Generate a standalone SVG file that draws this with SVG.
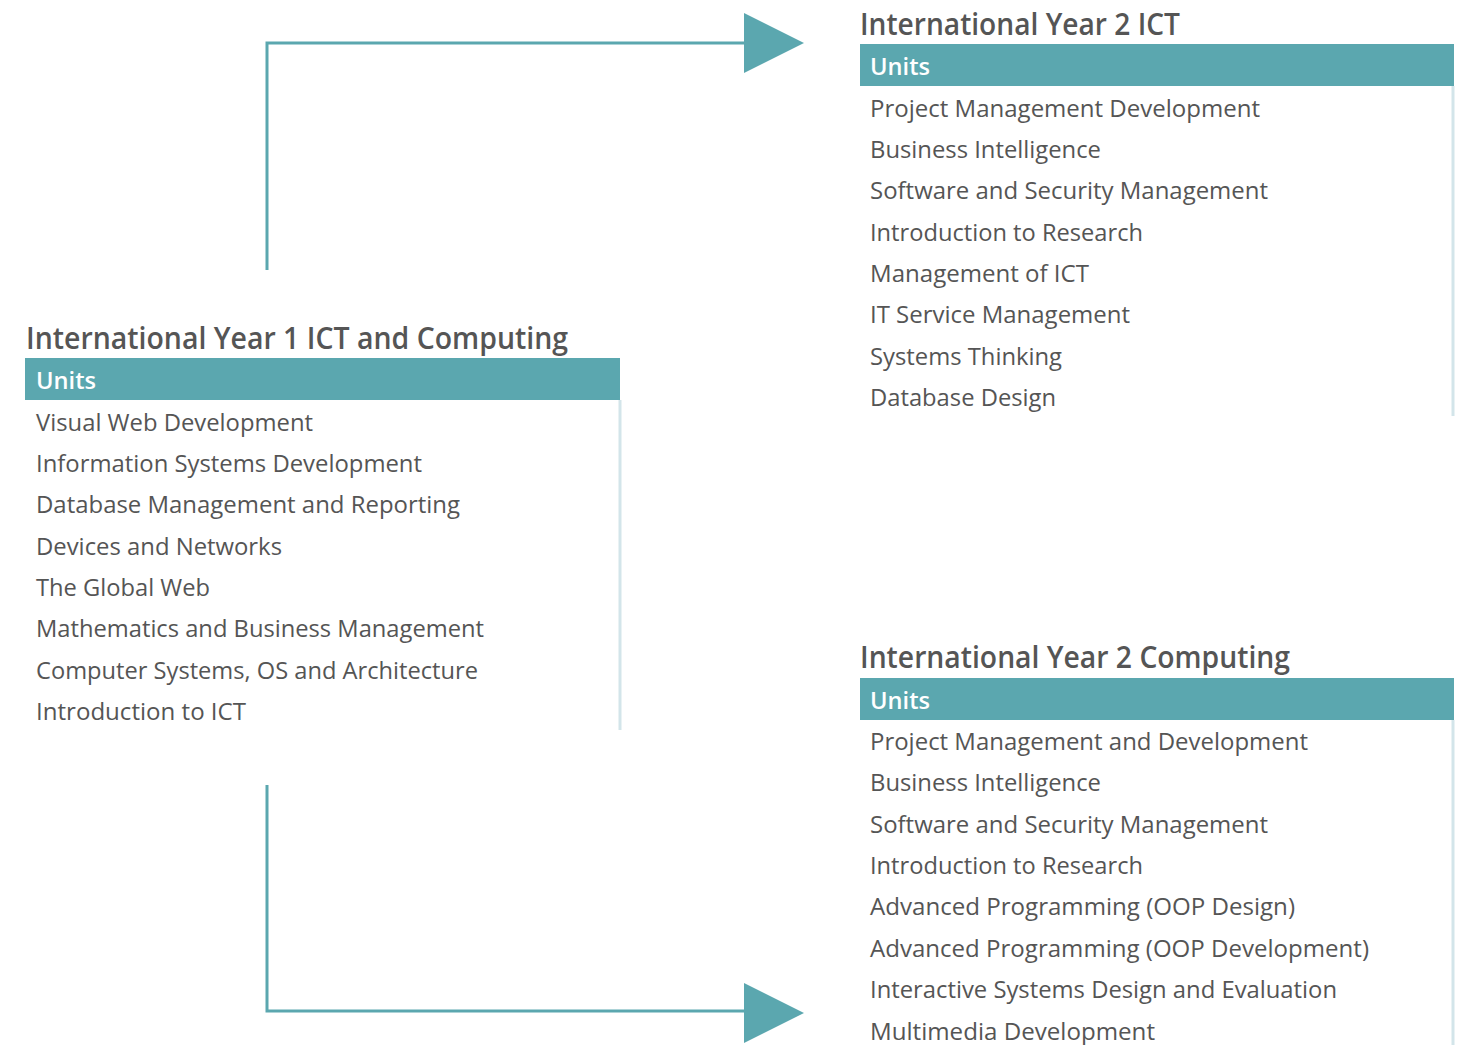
<svg xmlns="http://www.w3.org/2000/svg" width="1468" height="1045" viewBox="0 0 1468 1045">
<style>
.title{font-family:"Open Sans","Liberation Sans",sans-serif;font-weight:600;font-size:30px;fill:#555555}
.head{fill:#5ba7af}
.units{font-family:"Open Sans","Liberation Sans",sans-serif;font-weight:600;font-size:24px;fill:#ffffff}
.item{font-family:"Open Sans","Liberation Sans",sans-serif;font-size:24px;fill:#555555}
.edge{stroke:#d3e5ea;stroke-width:3;fill:none}
.conn{stroke:#5ba7af;stroke-width:3;fill:none}
.tip{fill:#5ba7af}
</style>
<rect width="1468" height="1045" fill="#ffffff"/>
<g id="connectors">
<path class="conn" d="M267,270 V43 H750"/>
<polygon class="tip" points="744,13 804,43 744,73"/>
<path class="conn" d="M267,785 V1011 H750"/>
<polygon class="tip" points="744,983 804,1013 744,1043"/>
</g>
<g id="year1">
<text class="title" x="26" y="349" textLength="542" lengthAdjust="spacingAndGlyphs">International Year 1 ICT and Computing</text>
<rect class="head" x="25" y="358" width="595" height="42"/>
<line class="edge" x1="620" y1="400" x2="620" y2="730"/>
<text class="units" x="36" y="389" textLength="60" lengthAdjust="spacingAndGlyphs">Units</text>
<text class="item" x="36" y="431" textLength="277" lengthAdjust="spacingAndGlyphs">Visual Web Development</text>
<text class="item" x="36" y="472" textLength="386" lengthAdjust="spacingAndGlyphs">Information Systems Development</text>
<text class="item" x="36" y="513" textLength="424" lengthAdjust="spacingAndGlyphs">Database Management and Reporting</text>
<text class="item" x="36" y="555" textLength="246" lengthAdjust="spacingAndGlyphs">Devices and Networks</text>
<text class="item" x="36" y="596" textLength="174" lengthAdjust="spacingAndGlyphs">The Global Web</text>
<text class="item" x="36" y="637" textLength="448" lengthAdjust="spacingAndGlyphs">Mathematics and Business Management</text>
<text class="item" x="36" y="679" textLength="442" lengthAdjust="spacingAndGlyphs">Computer Systems, OS and Architecture</text>
<text class="item" x="36" y="720" textLength="210" lengthAdjust="spacingAndGlyphs">Introduction to ICT</text>
</g>
<g id="year2ict">
<text class="title" x="860" y="35" textLength="320" lengthAdjust="spacingAndGlyphs">International Year 2 ICT</text>
<rect class="head" x="860" y="44" width="594" height="42"/>
<line class="edge" x1="1453" y1="86" x2="1453" y2="416"/>
<text class="units" x="870" y="75" textLength="60" lengthAdjust="spacingAndGlyphs">Units</text>
<text class="item" x="870" y="117" textLength="390" lengthAdjust="spacingAndGlyphs">Project Management Development</text>
<text class="item" x="870" y="158" textLength="231" lengthAdjust="spacingAndGlyphs">Business Intelligence</text>
<text class="item" x="870" y="199" textLength="398" lengthAdjust="spacingAndGlyphs">Software and Security Management</text>
<text class="item" x="870" y="241" textLength="273" lengthAdjust="spacingAndGlyphs">Introduction to Research</text>
<text class="item" x="870" y="282" textLength="219" lengthAdjust="spacingAndGlyphs">Management of ICT</text>
<text class="item" x="870" y="323" textLength="260" lengthAdjust="spacingAndGlyphs">IT Service Management</text>
<text class="item" x="870" y="365" textLength="192" lengthAdjust="spacingAndGlyphs">Systems Thinking</text>
<text class="item" x="870" y="406" textLength="186" lengthAdjust="spacingAndGlyphs">Database Design</text>
</g>
<g id="year2computing">
<text class="title" x="860" y="668" textLength="430" lengthAdjust="spacingAndGlyphs">International Year 2 Computing</text>
<rect class="head" x="860" y="678" width="594" height="42"/>
<line class="edge" x1="1453" y1="720" x2="1453" y2="1045"/>
<text class="units" x="870" y="709" textLength="60" lengthAdjust="spacingAndGlyphs">Units</text>
<text class="item" x="870" y="750" textLength="438" lengthAdjust="spacingAndGlyphs">Project Management and Development</text>
<text class="item" x="870" y="791" textLength="231" lengthAdjust="spacingAndGlyphs">Business Intelligence</text>
<text class="item" x="870" y="833" textLength="398" lengthAdjust="spacingAndGlyphs">Software and Security Management</text>
<text class="item" x="870" y="874" textLength="273" lengthAdjust="spacingAndGlyphs">Introduction to Research</text>
<text class="item" x="870" y="915" textLength="425" lengthAdjust="spacingAndGlyphs">Advanced Programming (OOP Design)</text>
<text class="item" x="870" y="957" textLength="499" lengthAdjust="spacingAndGlyphs">Advanced Programming (OOP Development)</text>
<text class="item" x="870" y="998" textLength="467" lengthAdjust="spacingAndGlyphs">Interactive Systems Design and Evaluation</text>
<text class="item" x="870" y="1040" textLength="285" lengthAdjust="spacingAndGlyphs">Multimedia Development</text>
</g>
</svg>
